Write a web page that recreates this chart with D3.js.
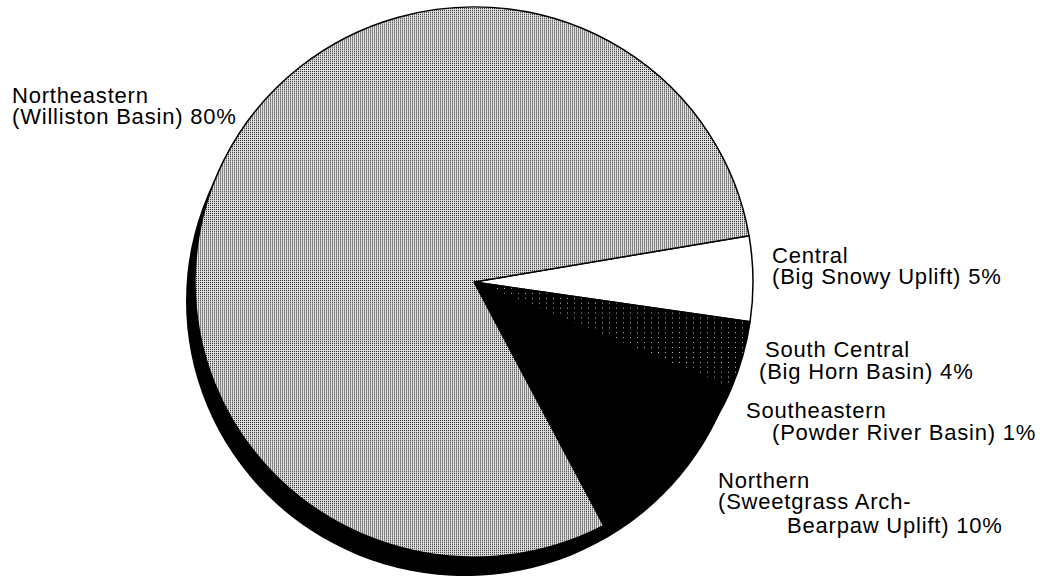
<!DOCTYPE html>
<html>
<head>
<meta charset="utf-8">
<script src="https://cdn.jsdelivr.net/npm/d3@7"></script>
<style>
  html, body { margin: 0; padding: 0; background: #fff; }
  svg { display: block; }
  text { font-family: "Liberation Sans", Arial, Helvetica, sans-serif; font-size: 22px; letter-spacing: 0.8px; fill: #000; }
</style>
</head>
<body>
<script>
// ---- data ----
const categories = ["Central", "South Central", "Southeastern", "Northern", "Northeastern"];
const values = [5, 4, 1, 10, 80];
const labelLines = [
  ["Central", "(Big Snowy Uplift) 5%"],
  ["South Central", "(Big Horn Basin) 4%"],
  ["Southeastern", "(Powder River Basin) 1%"],
  ["Northern", "(Sweetgrass Arch-", "Bearpaw Uplift) 10%"],
  ["Northeastern", "(Williston Basin) 80%"]
];

// ---- layout ----
const W = 1050, H = 576;
const cx = 474, cy = 282, r = 279, yScale = 0.986;
const startDeg = 80.3;
const shadowDx = -9, shadowDy = 19;

const fills = ["#ffffff", "url(#darkDots)", "#000000", "#000000", "url(#greyDots)"];

const labelPos = [
  [{x: 772, y: 263}, {x: 772, y: 284}],
  [{x: 765, y: 357}, {x: 759, y: 379}],
  [{x: 746, y: 418}, {x: 772, y: 440}],
  [{x: 718, y: 488}, {x: 718, y: 509}, {x: 787, y: 533}],
  [{x: 12, y: 103}, {x: 12, y: 124}]
];

const svg = d3.select("body").append("svg").attr("width", W).attr("height", H);
const defs = svg.append("defs");

const grey = defs.append("pattern").attr("id", "greyDots")
  .attr("patternUnits", "userSpaceOnUse").attr("width", 2).attr("height", 2);
grey.append("rect").attr("width", 2).attr("height", 2).attr("fill", "#e0e0e0");
grey.append("rect").attr("width", 1).attr("height", 1).attr("fill", "#222");

const dark = defs.append("pattern").attr("id", "darkDots")
  .attr("patternUnits", "userSpaceOnUse").attr("width", 7).attr("height", 5);
dark.append("rect").attr("width", 7).attr("height", 5).attr("fill", "#000");
dark.append("rect").attr("x", 2).attr("y", 1).attr("width", 1).attr("height", 1).attr("fill", "#bbb");

const pie = d3.pie().sort(null)
  .startAngle(startDeg * Math.PI / 180)
  .endAngle((startDeg + 360) * Math.PI / 180);
const arcs = pie(values);
const arc = d3.arc().innerRadius(0).outerRadius(r);

// shadow
svg.append("g")
  .attr("transform", `translate(${cx + shadowDx},${cy + shadowDy}) scale(1,${yScale})`)
  .append("path")
  .attr("d", d3.arc().innerRadius(0).outerRadius(r).startAngle(0).endAngle(2 * Math.PI)())
  .attr("fill", "#000");

const g = svg.append("g").attr("transform", `translate(${cx},${cy}) scale(1,${yScale})`);
g.selectAll("path.slice").data(arcs).join("path")
  .attr("class", "slice")
  .attr("d", arc)
  .attr("fill", (d, i) => fills[i])
  .attr("stroke", "#000")
  .attr("stroke-width", 1.5)
  .attr("stroke-linejoin", "round");

// labels
const lg = svg.append("g");
categories.forEach((c, i) => {
  labelLines[i].forEach((line, j) => {
    lg.append("text")
      .attr("x", labelPos[i][j].x)
      .attr("y", labelPos[i][j].y)
      .text(line);
  });
});
</script>
</body>
</html>
